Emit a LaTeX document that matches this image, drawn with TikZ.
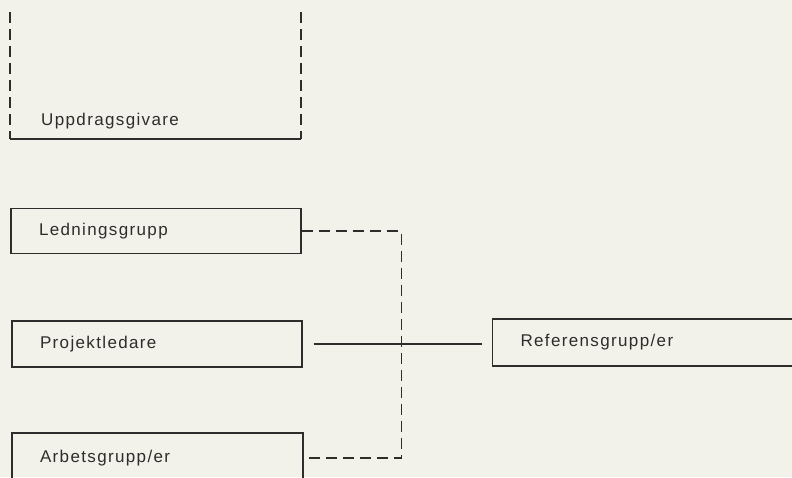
\documentclass[tikz,border=0pt]{standalone}
\usepackage{fontspec}
\setmainfont{Liberation Sans}[LetterSpace=8]
\usetikzlibrary{positioning}
\definecolor{ink}{RGB}{45,45,43}
\definecolor{paper}{RGB}{242,241,234}

\begin{document}
\begin{tikzpicture}[x=1pt,y=1pt, font=\fontsize{17}{20}\selectfont, text=ink,
  grp/.style={draw=ink,line width=1.2pt,minimum height=45pt,text width=234pt,inner xsep=28pt,inner ysep=0pt,align=left},
  dsh/.style={draw=ink,line width=1.2pt,dash pattern=on 11pt off 6pt},
  sld/.style={draw=ink,line width=1.2pt}]
  \fill[paper] (0,0) rectangle (792,-477);
  \clip (0,0) rectangle (792,-477);
  \useasboundingbox (0,0) rectangle (792,-477);

  % Uppdragsgivare
  \coordinate (upp-nw) at (10,-12);
  \coordinate (upp-sw) at (10,-139);
  \coordinate (upp-se) at (301,-139);
  \coordinate (upp-ne) at (301,-12);
  \node[anchor=base west,inner sep=0pt] (upp) at (41,-125) {Uppdragsgivare};
  \draw[dsh] (upp-nw) -- (upp-sw);
  \draw[dsh] (upp-ne) -- (upp-se);
  \draw[sld] (upp-sw) -- (upp-se);

  % groups
  \node[grp] (led) at (156,-231) {Ledningsgrupp};
  \node[grp,minimum height=46pt] (proj) at (157,-344) {Projektledare};
  \node[grp,minimum height=50pt,text width=235pt] (arb) at (157.5,-458) {Arbetsgrupp/er};
  \node[grp,minimum height=47pt,text width=275pt] (ref) at (658,-342.5) {Referensgrupp/er};

  % connectors
  \draw[dsh] (led.east) -- ++(99.5,0) |- (arb.east);
  \draw[sld,shorten <=11pt,shorten >=10pt] (proj.east) -- (proj.east -| ref.west);
\end{tikzpicture}
\end{document}
